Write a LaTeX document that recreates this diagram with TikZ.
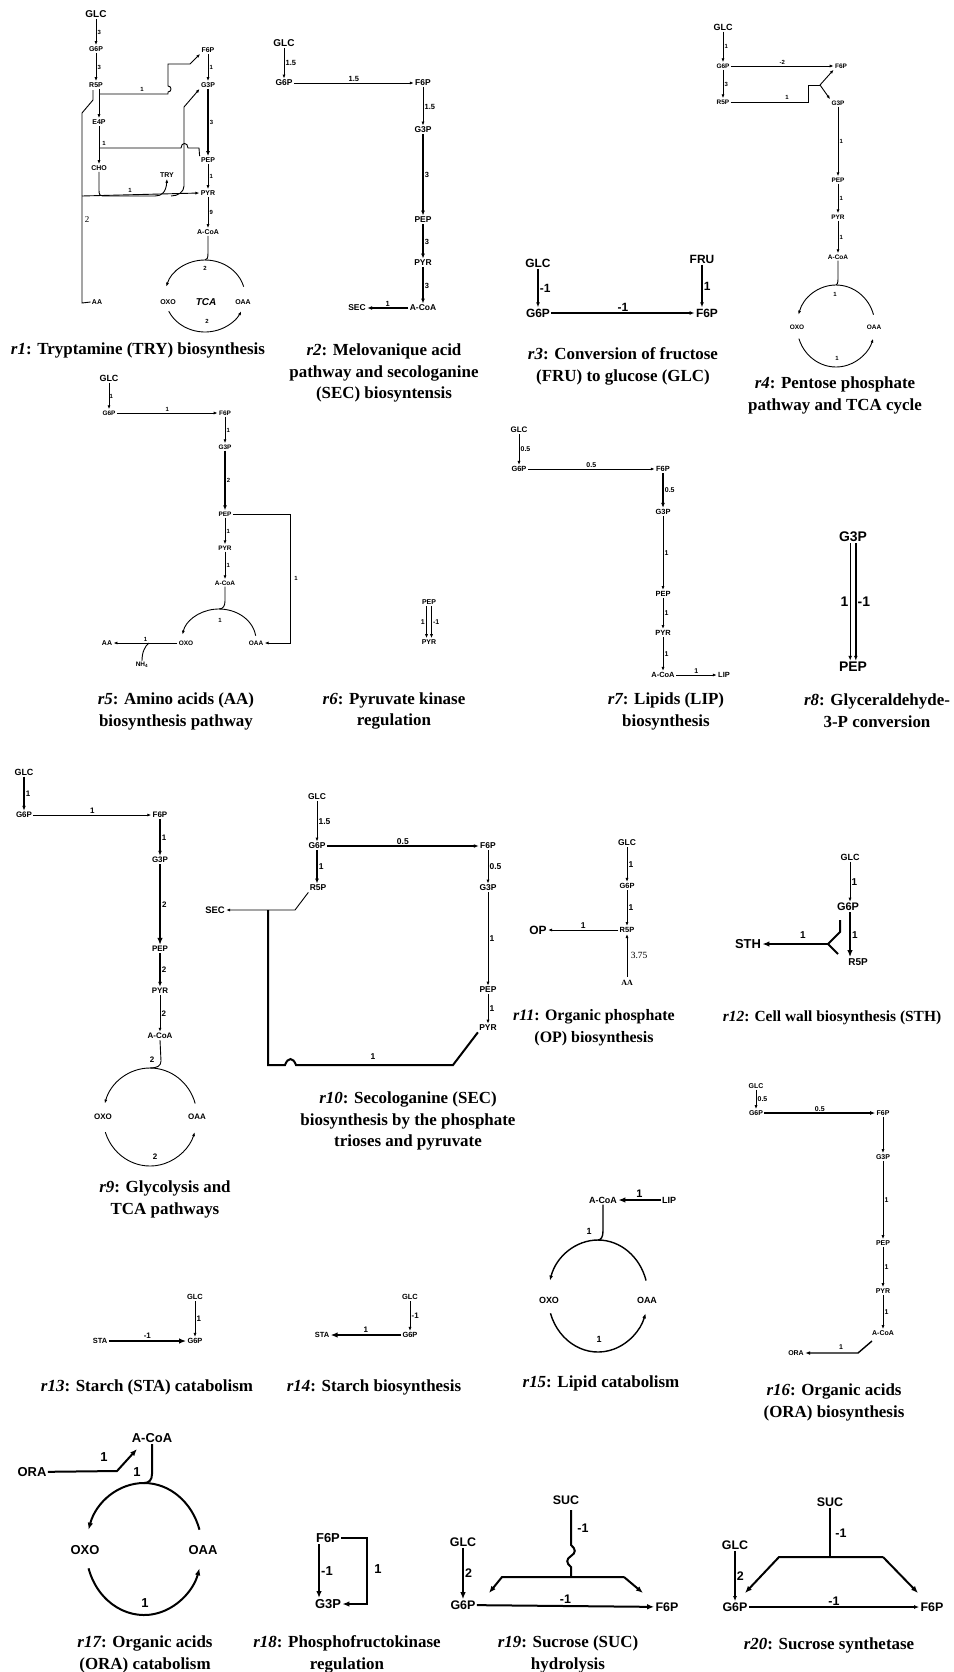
\documentclass[tikz,border=0pt]{standalone}
\usepackage{fontspec}
\setmainfont{Liberation Serif}
\setsansfont{Liberation Sans}
\usetikzlibrary{arrows.meta}
\newcommand\myfs[1]{\fontsize{#1}{#1}\selectfont}
\tikzset{
  mt/.style={font=\sffamily\bfseries\myfs{#1}, inner sep=1.2bp},
  captxt/.style={font=\rmfamily\bfseries\fontsize{17}{22}\selectfont, align=center, inner sep=0pt},
  ar/.style={-{Latex[length=4bp,width=3bp]}, line width=0.9bp},
  arm/.style={-{Latex[length=5bp,width=3.8bp]}, line width=1.4bp},
  art/.style={-{Latex[length=7bp,width=5.5bp]}, line width=2bp},
  ln/.style={line width=0.9bp},
  lnm/.style={line width=1.4bp},
  lnt/.style={line width=2bp},
}
\begin{document}
\begin{tikzpicture}[x=1bp,y=-1bp]
\useasboundingbox[fill=white] (0,0) rectangle (953,1672);

% ================= r1
\node[mt=10] (r1glc) at (96,14) {GLC};
\node[mt=7] (r1g6p) at (96,49) {G6P};
\node[mt=7] (r1r5p) at (96,85) {R5P};
\node[mt=7] (r1e4p) at (99,122) {E4P};
\node[mt=7] (r1cho) at (99,168) {CHO};
\node[mt=7] (r1try) at (167,175) {TRY};
\node[mt=7] (r1f6p) at (208,50) {F6P};
\node[mt=7] (r1g3p) at (208,85) {G3P};
\node[mt=7] (r1pep) at (208,160) {PEP};
\node[mt=7] (r1pyr) at (208,193) {PYR};
\node[mt=7] (r1acoa) at (208,232) {A-CoA};
\node[mt=7] (r1oxo) at (168,302) {OXO};
\node[mt=7] (r1oaa) at (243,302) {OAA};
\node[font=\sffamily\bfseries\itshape\myfs{10}] (r1tca) at (206,302) {TCA};
\node[mt=7] (r1aa) at (97,302) {AA};
\draw[ar] (r1glc) -- (r1g6p) node[midway,right,mt=6]{3};
\draw[ar] (r1g6p) -- (r1r5p) node[midway,right,mt=6]{3};
\draw[ar] (r1f6p) -- (r1g3p) node[midway,right,mt=6]{1};
\draw[arm] (r1g3p) -- (r1pep) node[midway,right,mt=6]{3};
\draw[ar] (r1pep) -- (r1pyr) node[midway,right,mt=6]{1};
\draw[ar] (r1pyr) -- (r1acoa) node[midway,right,mt=6]{9};
\draw[ar] (r1r5p.south -| r1e4p) -- (r1e4p);
\draw[ar] (r1e4p) -- (r1cho);
\draw[ln] (99,148) -- (181,148) .. controls (181,142) and (188,142) .. (188,148) -- (199,148) -- (r1pep.north west);
\node[mt=6] at (104,143) {1};
\draw[ar] (99,94) -- (168,94) -- (168,92) .. controls (172,92) and (172,86) .. (168,86) -- (168,64) -- (190,64) -- (r1f6p.south west);
\node[mt=6] at (142,89) {1};
\draw[ar] (r1cho.south) -- (99,188) .. controls (99,196) .. (107,196) -- (155,196) .. controls (162,196) and (166,192) .. (r1try.south);
\node[mt=6] at (130,190) {1};
\draw[ar] (171,196) .. controls (178,196) and (184,192) .. (184,186) -- (184,107) -- (r1g3p.south west);
\draw[ln] (93,90) -- (93,100) -- (82,113) -- (82,303) -- (r1aa.west);
\draw[ar] (82,196) -- (r1pyr.west);
\node[font=\rmfamily\myfs{9}] at (87,220) {2};
\draw[ln] (r1acoa.south) -- (208,253) .. controls (208,258) and (207,260) .. (205,260);
\draw[ar] (205,260) arc[start angle=270, end angle=195, x radius=40, y radius=36];
\draw[ar] (205,296) ++(155:40 and 36) arc[start angle=155, end angle=25, x radius=40, y radius=36];
\draw[ln] (205,296) ++(345:40 and 36) arc[start angle=345, end angle=270, x radius=40, y radius=36];
\node[mt=6] at (205,268) {2};
\node[mt=6] at (207,321) {2};
\node[captxt] (c1) at (138,350) {{\itshape r1}: Tryptamine (TRY) biosynthesis};

% ================= r2
\node[mt=10] (r2glc) at (284,43) {GLC};
\node[mt=8.5] (r2g6p) at (284,83) {G6P};
\node[mt=8.5] (r2f6p) at (423,83) {F6P};
\node[mt=8.5] (r2g3p) at (423,130) {G3P};
\node[mt=8.5] (r2pep) at (423,220) {PEP};
\node[mt=8.5] (r2pyr) at (423,263) {PYR};
\node[mt=8.5] (r2acoa) at (423,308) {A-CoA};
\node[mt=8.5] (r2sec) at (357,308) {SEC};
\draw[ar] (r2glc) -- (r2g6p) node[midway,right,mt=7.5]{1.5};
\draw[ar] (r2g6p) -- (r2f6p) node[midway,above,mt=7.5]{1.5};
\draw[ar] (r2f6p) -- (r2g3p) node[midway,right,mt=7.5]{1.5};
\draw[arm] (r2g3p) -- (r2pep) node[midway,right,mt=7.5]{3};
\draw[arm] (r2pep) -- (r2pyr) node[midway,right,mt=7.5]{3};
\draw[arm] (r2pyr) -- (r2acoa) node[midway,right,mt=7.5]{3};
\draw[arm] (r2acoa) -- (r2sec) node[midway,above,mt=7.5]{1};
\node[captxt] (c2) at (384,373) {{\itshape r2}: Melovanique acid\\pathway and secologanine\\(SEC) biosyntensis};

% ================= r3
\node[mt=12] (r3glc) at (538,263) {GLC};
\node[mt=12] (r3g6p) at (538,313) {G6P};
\node[mt=12] (r3f6p) at (707,313) {F6P};
\node[mt=12] (r3fru) at (702,259) {FRU};
\draw[arm] (r3glc) -- (r3g6p) node[midway,right,mt=12]{-1};
\draw[arm] (r3g6p) -- (r3f6p) node[midway,above,mt=12]{-1};
\draw[arm] (r3fru) -- (r3fru |- r3f6p.north) node[midway,right,mt=12]{1};
\node[captxt] (c3) at (623,366) {{\itshape r3}: Conversion of fructose\\(FRU) to glucose (GLC)};

% ================= r4
\node[mt=9] (r4glc) at (723,27) {GLC};
\node[mt=6.5] (r4g6p) at (723,66) {G6P};
\node[mt=6.5] (r4f6p) at (841,66) {F6P};
\node[mt=6.5] (r4r5p) at (723,102) {R5P};
\node[mt=6.5] (r4g3p) at (838,103) {G3P};
\node[mt=6.5] (r4pep) at (838,180) {PEP};
\node[mt=6.5] (r4pyr) at (838,217) {PYR};
\node[mt=6.5] (r4acoa) at (838,257) {A-CoA};
\node[mt=6.5] (r4oxo) at (797,327) {OXO};
\node[mt=6.5] (r4oaa) at (874,327) {OAA};
\draw[ar] (r4glc) -- (r4g6p) node[midway,right,mt=6]{1};
\draw[ar] (r4g6p) -- (r4f6p) node[midway,above,mt=6]{-2};
\draw[ar] (r4g6p) -- (r4r5p) node[midway,right,mt=6]{3};
\coordinate (r4j) at (820,85);
\draw[ln] (r4r5p) -- (808,102) -- (808,85) -- (r4j);
\draw[ar] (r4j) -- (r4f6p.south west);
\draw[ar] (r4j) -- (r4g3p.north west);
\node[mt=6] at (787,97) {1};
\draw[ar] (r4g3p) -- (r4pep) node[midway,right,mt=6]{1};
\draw[ar] (r4pep) -- (r4pyr) node[midway,right,mt=6]{1};
\draw[ar] (r4pyr) -- (r4acoa) node[midway,right,mt=6]{1};
\draw[ln] (r4acoa.south) -- (838,279) .. controls (838,283) and (837,285) .. (836,285);
\draw[ar] (836,285) arc[start angle=270, end angle=196, x radius=39, y radius=41];
\draw[ar] (836,326) ++(162:39 and 41) arc[start angle=162, end angle=18, x radius=39, y radius=41];
\draw[ln] (836,326) ++(344:39 and 41) arc[start angle=344, end angle=270, x radius=39, y radius=41];
\node[mt=6] at (835,294) {1};
\node[mt=6] at (837,358) {1};
\node[captxt] (c4) at (835,395) {{\itshape r4}: Pentose phosphate\\pathway and TCA cycle};

% ================= r5
\node[mt=9] (r5glc) at (109,378) {GLC};
\node[mt=6.5] (r5g6p) at (109,413) {G6P};
\node[mt=6.5] (r5f6p) at (225,413) {F6P};
\node[mt=6.5] (r5g3p) at (225,447) {G3P};
\node[mt=6.5] (r5pep) at (225,514) {PEP};
\node[mt=6.5] (r5pyr) at (225,548) {PYR};
\node[mt=6.5] (r5acoa) at (225,583) {A-CoA};
\node[mt=6.5] (r5oxo) at (186,643) {OXO};
\node[mt=6.5] (r5oaa) at (256,643) {OAA};
\node[mt=7] (r5aa) at (107,643) {AA};
\node[mt=6.5] (r5nh) at (142,665) {NH\textsubscript{4}};
\draw[ar] (r5glc) -- (r5g6p) node[midway,right,mt=6,xshift=-1bp]{1};
\draw[ar] (r5g6p) -- (r5f6p) node[midway,above,mt=6]{1};
\draw[ar] (r5f6p) -- (r5g3p) node[midway,right,mt=6]{1};
\draw[arm] (r5g3p) -- (r5pep) node[midway,right,mt=6]{2};
\draw[ar] (r5pep) -- (r5pyr) node[midway,right,mt=6]{1};
\draw[ar] (r5pyr) -- (r5acoa) node[midway,right,mt=6]{1};
\draw[ar] (r5pep.east) -- (290,514) -- (290,643) -- (r5oaa.east);
\node[mt=6] at (296,578) {1};
\draw[ln] (r5acoa.south) -- (225,601) .. controls (225,606) and (223,609) .. (219,609);
\draw[ar] (219,640) ++(352:37 and 31) arc[start angle=352, end angle=190, x radius=37, y radius=31];
\node[mt=6] at (220,620) {1};
\draw[ar] (r5oxo) -- (r5aa) node[midway,above,mt=6]{1};
\draw[ln] (r5nh.north) .. controls (142,652) and (145,646) .. (149,643);
\node[captxt] (c5) at (176,711) {{\itshape r5}: Amino acids (AA)\\biosynthesis pathway};

% ================= r6
\node[mt=7] (r6pep) at (429,602) {PEP};
\node[mt=7] (r6pyr) at (429,642) {PYR};
\draw[ar] ([xshift=-2.5bp]r6pep.south) -- ([xshift=-2.5bp]r6pyr.north) node[midway,left,mt=7]{1};
\draw[ar] ([xshift=2.5bp]r6pep.south) -- ([xshift=2.5bp]r6pyr.north) node[midway,right,mt=7]{-1};
\node[captxt] (c6) at (394,711) {{\itshape r6}: Pyruvate kinase\\regulation};

% ================= r7
\node[mt=8] (r7glc) at (519,430) {GLC};
\node[mt=7.5] (r7g6p) at (519,469) {G6P};
\node[mt=7.5] (r7f6p) at (663,469) {F6P};
\node[mt=7.5] (r7g3p) at (663,512) {G3P};
\node[mt=7.5] (r7pep) at (663,594) {PEP};
\node[mt=7.5] (r7pyr) at (663,633) {PYR};
\node[mt=7.5] (r7acoa) at (663,675) {A-CoA};
\node[mt=7.5] (r7lip) at (724,675) {LIP};
\draw[ar] (r7glc) -- (r7g6p) node[midway,right,mt=7]{0.5};
\draw[ar] (r7g6p) -- (r7f6p) node[midway,above,mt=7]{0.5};
\draw[arm] (r7f6p) -- (r7g3p) node[midway,right,mt=7]{0.5};
\draw[ar] (r7g3p) -- (r7pep) node[midway,right,mt=7]{1};
\draw[ar] (r7pep) -- (r7pyr) node[midway,right,mt=7]{1};
\draw[ar] (r7pyr) -- (r7acoa) node[midway,right,mt=7]{1};
\draw[ar] (r7acoa) -- (r7lip) node[midway,above,mt=7]{1};
\node[captxt] (c7) at (666,711) {{\itshape r7}: Lipids (LIP)\\biosynthesis};

% ================= r8
\node[mt=14] (r8g3p) at (853,537) {G3P};
\node[mt=14] (r8pep) at (853,667) {PEP};
\draw[arm] ([xshift=-2.8bp]r8g3p.south) -- ([xshift=-2.8bp]r8pep.north) node[midway,left,mt=14]{1};
\draw[arm] ([xshift=2.8bp]r8g3p.south) -- ([xshift=2.8bp]r8pep.north) node[midway,right,mt=14]{-1};
\node[captxt] (c8) at (877,711) {{\itshape r8}: Glyceraldehyde-\\3-P conversion};

% ================= r9
\node[mt=9] (r9glc) at (24,772) {GLC};
\node[mt=8] (r9g6p) at (24,815) {G6P};
\node[mt=8] (r9f6p) at (160,815) {F6P};
\node[mt=8] (r9g3p) at (160,860) {G3P};
\node[mt=8] (r9pep) at (160,949) {PEP};
\node[mt=8] (r9pyr) at (160,991) {PYR};
\node[mt=8] (r9acoa) at (160,1036) {A-CoA};
\node[mt=8] (r9oxo) at (103,1117) {OXO};
\node[mt=8] (r9oaa) at (197,1117) {OAA};
\draw[arm] (r9glc) -- (r9g6p) node[midway,right,mt=8]{1};
\draw[ar] (r9g6p) -- (r9f6p) node[midway,above,mt=8]{1};
\draw[arm] (r9f6p) -- (r9g3p) node[midway,right,mt=8]{1};
\draw[art] (r9g3p) -- (r9pep) node[midway,right,mt=8]{2};
\draw[arm] (r9pep) -- (r9pyr) node[midway,right,mt=8]{2};
\draw[ar] (r9pyr) -- (r9acoa) node[midway,right,mt=8]{2};
\draw[ln] (r9acoa.south) -- (161,1061) .. controls (161,1066) and (157,1068) .. (150,1068);
\draw[ar] (150,1068) arc[start angle=270, end angle=196, x radius=47, y radius=49];
\draw[ar] (150,1117) ++(162:47 and 49) arc[start angle=162, end angle=18, x radius=47, y radius=49];
\draw[ln] (150,1117) ++(344:47 and 49) arc[start angle=344, end angle=270, x radius=47, y radius=49];
\node[mt=8] at (152,1060) {2};
\node[mt=8] at (155,1157) {2};
\node[captxt] (c9) at (165,1199) {{\itshape r9}: Glycolysis and\\TCA pathways};

% ================= r10
\node[mt=8.5] (r10glc) at (317,797) {GLC};
\node[mt=8.5] (r10g6p) at (317,846) {G6P};
\node[mt=8.5] (r10r5p) at (318,888) {R5P};
\node[mt=8.5] (r10f6p) at (488,846) {F6P};
\node[mt=8.5] (r10g3p) at (488,888) {G3P};
\node[mt=8.5] (r10pep) at (488,990) {PEP};
\node[mt=8.5] (r10pyr) at (488,1028) {PYR};
\node[mt=9.5] (r10sec) at (215,910) {SEC};
\draw[ar] (r10glc) -- (r10g6p) node[midway,right,mt=8.5]{1.5};
\draw[arm] (r10g6p) -- (r10f6p) node[midway,above,mt=8.5]{0.5};
\draw[arm] (r10g6p.south -| r10glc) -- (r10r5p.north -| r10glc) node[midway,right,mt=8.5]{1};
\draw[ar] (r10f6p) -- (r10g3p) node[midway,right,mt=8.5]{0.5};
\draw[ar] (r10g3p) -- (r10pep) node[midway,right,mt=8.5]{1};
\draw[ar] (r10pep) -- (r10pyr) node[midway,right,mt=8.5]{1};
\draw[ar] (r10r5p.south west) -- (295,910) -- (r10sec);
\draw[lnt] (r10pyr.south west) -- (453,1065) -- (296,1065) .. controls (293,1057) and (288,1057) .. (285,1065) -- (268,1065) -- (268,910);
\node[mt=8.5] at (373,1057) {1};
\node[captxt] (c10) at (408,1121) {{\itshape r10}: Secologanine (SEC)\\biosynthesis by the phosphate\\trioses and pyruvate};

% ================= r11
\node[mt=8.5] (r11glc) at (627,843) {GLC};
\node[mt=7.5] (r11g6p) at (627,886) {G6P};
\node[mt=7.5] (r11r5p) at (627,930) {R5P};
\node[mt=12] (r11op) at (538,930) {OP};
\node[font=\rmfamily\bfseries\myfs{8}] (r11aa) at (627,983) {AA};
\draw[ar] (r11glc) -- (r11g6p) node[midway,right,mt=8.5]{1};
\draw[ar] (r11g6p) -- (r11r5p) node[midway,right,mt=8.5]{1};
\draw[ar] (r11r5p) -- (r11op) node[midway,above,mt=8.5]{1};
\draw[ar] (r11aa) -- (r11r5p) node[midway,right,font=\rmfamily\myfs{9.5}]{3.75};
\node[captxt, font=\rmfamily\bfseries\fontsize{16}{22}\selectfont] (c11) at (594,1028) {{\itshape r11}: Organic phosphate\\(OP) biosynthesis};

% ================= r12
\node[mt=9] (r12glc) at (850,857) {GLC};
\node[mt=11] (r12g6p) at (848,907) {G6P};
\node[mt=10] (r12r5p) at (858,962) {R5P};
\node[mt=13] (r12sth) at (748,944) {STH};
\draw[ar] (r12glc) -- (r12g6p.north -| r12glc) node[midway,right,mt=10]{1};
\draw[art] (r12g6p.south -| r12glc) -- (r12r5p.north -| r12glc) node[midway,right,mt=10]{1};
\coordinate (r12j) at (828,944);
\draw[lnt] (840,920) -- (840,932) -- (r12j) -- (838,954);
\draw[art] (r12j) -- (r12sth);
\node[mt=10] at (803,935) {1};
\node[captxt, font=\rmfamily\bfseries\fontsize{15.5}{22}\selectfont] (c12) at (832,1018) {{\itshape r12}: Cell wall biosynthesis (STH)};

% ================= r13
\node[mt=7.5] (r13glc) at (195,1297) {GLC};
\node[mt=7.5] (r13g6p) at (195,1341) {G6P};
\node[mt=7.5] (r13sta) at (100,1341) {STA};
\draw[ar] (r13glc) -- (r13g6p) node[midway,right,mt=8]{1};
\draw[art] (r13sta) -- (r13g6p) node[midway,above,mt=8]{-1};
\node[captxt] (c13) at (147,1387) {{\itshape r13}: Starch (STA) catabolism};

% ================= r14
\node[mt=7.5] (r14glc) at (410,1297) {GLC};
\node[mt=7.5] (r14g6p) at (410,1335) {G6P};
\node[mt=7.5] (r14sta) at (322,1335) {STA};
\draw[ar] (r14glc) -- (r14g6p) node[midway,right,mt=8]{-1};
\draw[art] (r14g6p) -- (r14sta) node[midway,above,mt=8]{1};
\node[captxt] (c14) at (374,1387) {{\itshape r14}: Starch biosynthesis};

% ================= r15
\node[mt=9] (r15acoa) at (603,1200) {A-CoA};
\node[mt=9] (r15lip) at (669,1200) {LIP};
\node[mt=9] (r15oxo) at (549,1300) {OXO};
\node[mt=9] (r15oaa) at (647,1300) {OAA};
\draw[art] (r15lip) -- (r15acoa) node[midway,above,mt=11]{1};
\draw[lnm] (r15acoa.south) -- (603,1231) .. controls (603,1237) and (601,1240) .. (598,1240);
\draw[arm] (598,1240) arc[start angle=270, end angle=196, x radius=50, y radius=56];
\draw[arm] (598,1296) ++(162:50 and 56) arc[start angle=162, end angle=18, x radius=50, y radius=56];
\draw[lnm] (598,1296) ++(344:50 and 56) arc[start angle=344, end angle=270, x radius=50, y radius=56];
\node[mt=9] at (589,1231) {1};
\node[mt=9] at (599,1339) {1};
\node[captxt] (c15) at (601,1383) {{\itshape r15}: Lipid catabolism};

% ================= r16
\node[mt=7] (r16glc) at (756,1086) {GLC};
\node[mt=7] (r16g6p) at (756,1113) {G6P};
\node[mt=7] (r16f6p) at (883,1113) {F6P};
\node[mt=7] (r16g3p) at (883,1157) {G3P};
\node[mt=7] (r16pep) at (883,1243) {PEP};
\node[mt=7] (r16pyr) at (883,1291) {PYR};
\node[mt=7] (r16acoa) at (883,1333) {A-CoA};
\node[mt=7] (r16ora) at (796,1353) {ORA};
\draw[ar] (r16glc) -- (r16g6p) node[midway,right,mt=7]{0.5};
\draw[arm] (r16g6p) -- (r16f6p) node[midway,above,mt=7]{0.5};
\draw[ar] (r16f6p) -- (r16g3p);
\draw[ar] (r16g3p) -- (r16pep) node[midway,right,mt=7]{1};
\draw[ar] (r16pep) -- (r16pyr) node[midway,right,mt=7]{1};
\draw[ar] (r16pyr) -- (r16acoa) node[midway,right,mt=7]{1};
\draw[arm] (872,1341) -- (858,1353) -- (r16ora);
\node[mt=7] at (841,1347) {1};
\node[captxt] (c16) at (834,1402) {{\itshape r16}: Organic acids\\(ORA) biosynthesis};

% ================= r17
\node[mt=13] (r17acoa) at (152,1438) {A-CoA};
\node[mt=13] (r17ora) at (32,1472) {ORA};
\node[mt=13] (r17oxo) at (85,1550) {OXO};
\node[mt=13] (r17oaa) at (203,1550) {OAA};
\draw[art] (r17ora) -- (117,1471) -- (137,1449);
\node[mt=13] at (104,1457) {1};
\draw[lnt] (r17acoa.south) -- (152,1474) .. controls (152,1480) and (149,1483) .. (144,1483);
\draw[art] (144,1483) arc[start angle=270, end angle=197, x radius=58, y radius=66];
\draw[art] (144,1549) ++(163:58 and 66) arc[start angle=163, end angle=17, x radius=58, y radius=66];
\draw[lnt] (144,1549) ++(343:58 and 66) arc[start angle=343, end angle=270, x radius=58, y radius=66];
\node[mt=13] at (137,1472) {1};
\node[mt=13] at (145,1603) {1};
\node[captxt] (c17) at (145,1654) {{\itshape r17}: Organic acids\\(ORA) catabolism};

% ================= r18
\node[mt=13] (r18f6p) at (328,1538) {F6P};
\node[mt=13] (r18g3p) at (328,1604) {G3P};
\draw[art] ([xshift=-9bp]r18f6p.south) -- ([xshift=-9bp]r18g3p.north) node[midway,right,mt=13]{-1};
\draw[art] (r18f6p.east) -- (367,1538) -- (367,1604) -- (r18g3p.east);
\node[mt=13] at (378,1569) {1};
\node[captxt] (c18) at (347,1654) {{\itshape r18}: Phosphofructokinase\\regulation};

% ================= r19
\node[mt=12.5] (r19suc) at (566,1500) {SUC};
\node[mt=12.5] (r19glc) at (463,1542) {GLC};
\node[mt=12.5] (r19g6p) at (463,1605) {G6P};
\node[mt=12.5] (r19f6p) at (667,1607) {F6P};
\draw[art] (r19glc) -- (r19g6p) node[midway,right,mt=12.5]{2};
\draw[art] (r19g6p) -- (r19f6p) node[midway,above,mt=12.5]{-1};
\draw[lnt] (571,1510) -- (571,1545) .. controls (576,1549) and (576,1553) .. (571,1556) .. controls (566,1559) and (566,1563) .. (571,1567) -- (571,1577);
\node[mt=12.5] at (583,1528) {-1};
\draw[art] (624,1577) -- (502,1577) -- (489,1593);
\draw[art] (624,1577) -- (643,1593);
\node[captxt] (c19) at (568,1654) {{\itshape r19}: Sucrose (SUC)\\hydrolysis};

% ================= r20
\node[mt=12.5] (r20suc) at (830,1502) {SUC};
\node[mt=12.5] (r20glc) at (735,1545) {GLC};
\node[mt=12.5] (r20g6p) at (735,1607) {G6P};
\node[mt=12.5] (r20f6p) at (932,1607) {F6P};
\draw[arm] (r20glc) -- (r20g6p) node[midway,right,mt=12.5]{2};
\draw[arm] (r20g6p) -- (r20f6p) node[midway,above,mt=12.5]{-1};
\draw[lnt] (r20suc) -- (830,1557);
\node[mt=12.5] at (841,1533) {-1};
\draw[art] (883,1557) -- (779,1557) -- (745,1593);
\draw[art] (883,1557) -- (918,1593);
\node[captxt] (c20) at (829,1645) {{\itshape r20}: Sucrose synthetase};
\end{tikzpicture}
\end{document}
